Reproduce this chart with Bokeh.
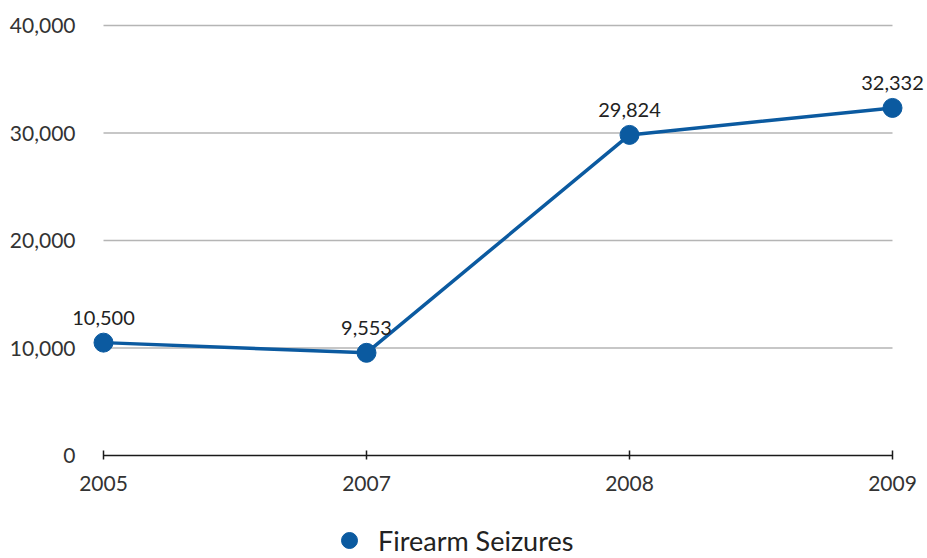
from bokeh.plotting import figure
from bokeh.models import Range1d, FixedTicker, NumeralTickFormatter, Legend, LegendItem
from bokeh.embed import file_html
from bokeh.resources import INLINE
from bokeh.core.properties import value

years = ["2005", "2007", "2008", "2009"]
seizures = [10500, 9553, 29824, 32332]
point_labels = ["10,500", "9,553", "29,824", "32,332"]
y_ticks = [0, 10000, 20000, 30000, 40000]
series_name = "Firearm Seizures"

BLUE = "#0b5aa0"
FONT = "Lato"

idx = list(range(len(years)))

W, H = 927, 558
# pixel layout of the data area (category 0 -> 103px, category 3 -> 892px; 0 -> 455px, 40000 -> 25px)
px_per_cat = (892 - 103) / 3.0
units_per_px = 40000 / (455 - 25)
x_lo = -103 / px_per_cat
x_hi = 3 + (W - 892) / px_per_cat
y_hi = 40000 + 25 * units_per_px
y_lo = -(H - 455) * units_per_px

p = figure(width=W, height=H, output_backend="svg", toolbar_location=None,
           x_range=Range1d(x_lo, x_hi), y_range=Range1d(y_lo, y_hi),
           min_border_left=0, min_border_right=0, min_border_top=0, min_border_bottom=0)
p.outline_line_color = None
p.background_fill_color = "white"
p.border_fill_color = "white"
p.xgrid.visible = False
p.ygrid.visible = False

# horizontal gridlines spanning the category extent
gy = y_ticks[1:]
p.segment(x0=[idx[0]] * len(gy), x1=[idx[-1]] * len(gy), y0=gy, y1=gy,
          line_color="#b5b5b5", line_width=1.5)

# x axis, pinned at y = 0
xa = p.xaxis[0]
xa.fixed_location = 0
xa.ticker = FixedTicker(ticks=idx)
xa.major_label_overrides = {i: y for i, y in zip(idx, years)}
xa.bounds = (idx[0], idx[-1])
xa.axis_line_color = "#1a1a1a"
xa.axis_line_width = 1.5
xa.major_tick_line_color = "#1a1a1a"
xa.major_tick_line_width = 1.5
xa.major_tick_in = 5
xa.major_tick_out = 4
xa.minor_tick_line_color = None
xa.major_label_standoff = 16
xa.major_label_text_font = FONT
xa.major_label_text_font_size = "21px"
xa.major_label_text_color = "#333333"

# y axis, pinned just left of the first category
ya = p.yaxis[0]
ya.fixed_location = -20 / px_per_cat
ya.ticker = FixedTicker(ticks=y_ticks)
ya.formatter = NumeralTickFormatter(format="0,0")
ya.axis_line_color = None
ya.major_tick_line_color = None
ya.minor_tick_line_color = None
ya.major_tick_in = 0
ya.major_tick_out = 0
ya.major_label_standoff = 8
ya.major_label_text_font = FONT
ya.major_label_text_font_size = "21px"
ya.major_label_text_color = "#333333"

p.line(idx, seizures, line_color=BLUE, line_width=3.5)
pts = p.scatter(idx, seizures, size=19, fill_color=BLUE, line_color=BLUE)

p.text(idx, seizures, text=point_labels, y_offset=-25, text_align="center",
       text_baseline="middle", text_font=value(FONT), text_font_size="20px",
       text_color="#222222")

legend = Legend(items=[LegendItem(label=series_name, renderers=[pts])],
                location=(329, -2), orientation="horizontal",
                glyph_width=40, glyph_height=40, label_height=40, label_standoff=9,
                padding=0, margin=0, border_line_color=None,
                background_fill_alpha=0,
                label_text_font=FONT, label_text_font_size="27px",
                label_text_color="#222222", label_text_baseline="middle")
p.add_layout(legend, "center")

open("out.html", "w").write(file_html(p, INLINE))
